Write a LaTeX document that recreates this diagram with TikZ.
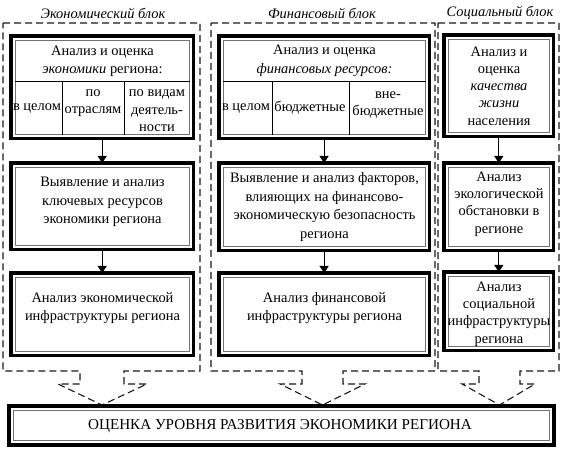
\documentclass[tikz,border=0pt]{standalone}
\usepackage{fontspec}
\setmainfont{Liberation Serif}
\usetikzlibrary{arrows.meta}
\tikzset{
  frame/.style={draw=black, line width=3.4bp, rectangle, anchor=north west, inner sep=0pt, outer sep=0pt},
  innerframe/.style={draw=black!55, line width=0.7bp},
  sepline/.style={draw=black, line width=0.7bp},
  blockline/.style={draw=black!90, line width=1.1bp, dash pattern=on 7bp off 4bp},
  txt/.style={font=\fontsize{14.5}{18.5}\selectfont, align=center, inner sep=0pt},
  coltxt/.style={font=\fontsize{14.5}{17.5}\selectfont, align=center, inner sep=0pt},
  stxt/.style={font=\fontsize{14.5}{17.3}\selectfont, align=center, inner sep=0pt},
  bigtxt/.style={font=\fontsize{15.2}{18}\selectfont, align=center, inner sep=0pt},
  head/.style={font=\itshape\fontsize{14.5}{16}\selectfont, inner sep=0pt},
  arr/.style={draw=black, line width=1bp, -{Triangle[width=9bp,length=7bp]}},
}
\newcommand{\mybox}[5]{%
  \node[frame, minimum width=#4-#2, minimum height=#5-#3] (#1) at (#2,#3) {};
  \draw[innerframe] ([xshift=4.2bp,yshift=-4.2bp]#1.north west) rectangle ([xshift=-4.2bp,yshift=4.2bp]#1.south east);
}
\begin{document}
\begin{tikzpicture}[x=1bp,y=-1bp]
\useasboundingbox (0,0) rectangle (564,452);

% headings
\node[head] (hE) at (103,13) {Экономический блок};
\node[head] (hF) at (322,13) {Финансовый блок};
\node[head] (hS) at (500,13) {Социальный блок};

% dashed block outlines
\draw[blockline] (3,23) -- (200,23) -- (200,371) -- (124,371) -- (124,384) -- (147,384)
  -- (102,405) -- (58,384) -- (80,384) -- (80,371) -- (3,371) -- cycle;
\draw[blockline] (211,23) -- (435,23) -- (435,371) -- (343,371) -- (343,384) -- (365,384)
  -- (322.5,405) -- (280,384) -- (302,384) -- (302,371) -- (211,371) -- cycle;
\draw[blockline] (438,23) -- (559,23) -- (559,371) -- (520,371) -- (520,384) -- (535,384)
  -- (499.5,405) -- (462,384) -- (479,384) -- (479,371) -- (438,371) -- cycle;

% boxes
\mybox{E1}{11}{36}{194}{139}
\mybox{E2}{11}{163}{194}{250}
\mybox{E3}{11}{273}{194}{356}
\mybox{F1}{219}{36}{430}{139}
\mybox{F2}{219}{163}{430}{251}
\mybox{F3}{219}{273}{430}{356}
\mybox{S1}{444}{35}{554}{137}
\mybox{S2}{444}{163}{554}{251}
\mybox{S3}{444}{272}{554}{351}
\mybox{B}{9}{406}{556}{445}

% table lines inside first boxes
\draw[sepline] (15,81) -- (190,81);
\draw[sepline] (62,81) -- (62,135);
\draw[sepline] (124,81) -- (124,135);
\draw[sepline] (223,81) -- (426,81);
\draw[sepline] (272,81) -- (272,135);
\draw[sepline] (349,81) -- (349,135);

% texts
\node[txt] (tE1) at (102.5,61) {Анализ и оценка\\\textit{экономики} региона:};
\node[coltxt] (cE1) at (37,108) {в целом};
\node[coltxt] (cE2) at (93,103) {по\\отраслям};
\node[coltxt] (cE3) at (157,111) {по видам\\деятель-\\ности};
\node[txt] (tF1) at (324.5,61) {Анализ и оценка\\\textit{финансовых ресурсов:}};
\node[coltxt] (cF1) at (246,108) {в целом};
\node[coltxt] (cF2) at (310,108) {бюджетные};
\node[coltxt] (cF3) at (388,105) {вне-\\бюджетные};
\node[stxt] (tS1) at (499,86) {Анализ и\\оценка\\\textit{качества}\\\textit{жизни}\\населения};

\node[txt] (tE2) at (102.5,202) {Выявление и анализ\\ключевых ресурсов\\экономики региона};
\node[txt] (tF2) at (324.5,207) {Выявление и анализ факторов,\\влияющих на финансово-\\экономическую безопасность\\региона};
\node[stxt] (tS2) at (499,204) {Анализ\\экологической\\обстановки в\\регионе};

\node[txt] (tE3) at (102.5,308) {Анализ экономической\\инфраструктуры региона};
\node[txt] (tF3) at (324.5,308) {Анализ финансовой\\инфраструктуры региона};
\node[stxt] (tS3) at (499,314) {Анализ\\социальной\\инфраструктуры\\региона};

\node[bigtxt] (tB) at (280,426) {ОЦЕНКА УРОВНЯ РАЗВИТИЯ ЭКОНОМИКИ РЕГИОНА};

% arrows
\draw[arr] (E1.south) -- (E2.north);
\draw[arr] (E2.south) -- (E3.north);
\draw[arr] (F1.south) -- (F2.north);
\draw[arr] (F2.south) -- (F3.north);
\draw[arr] (S1.south) -- (S2.north);
\draw[arr] (S2.south) -- (S3.north);
\end{tikzpicture}
\end{document}
